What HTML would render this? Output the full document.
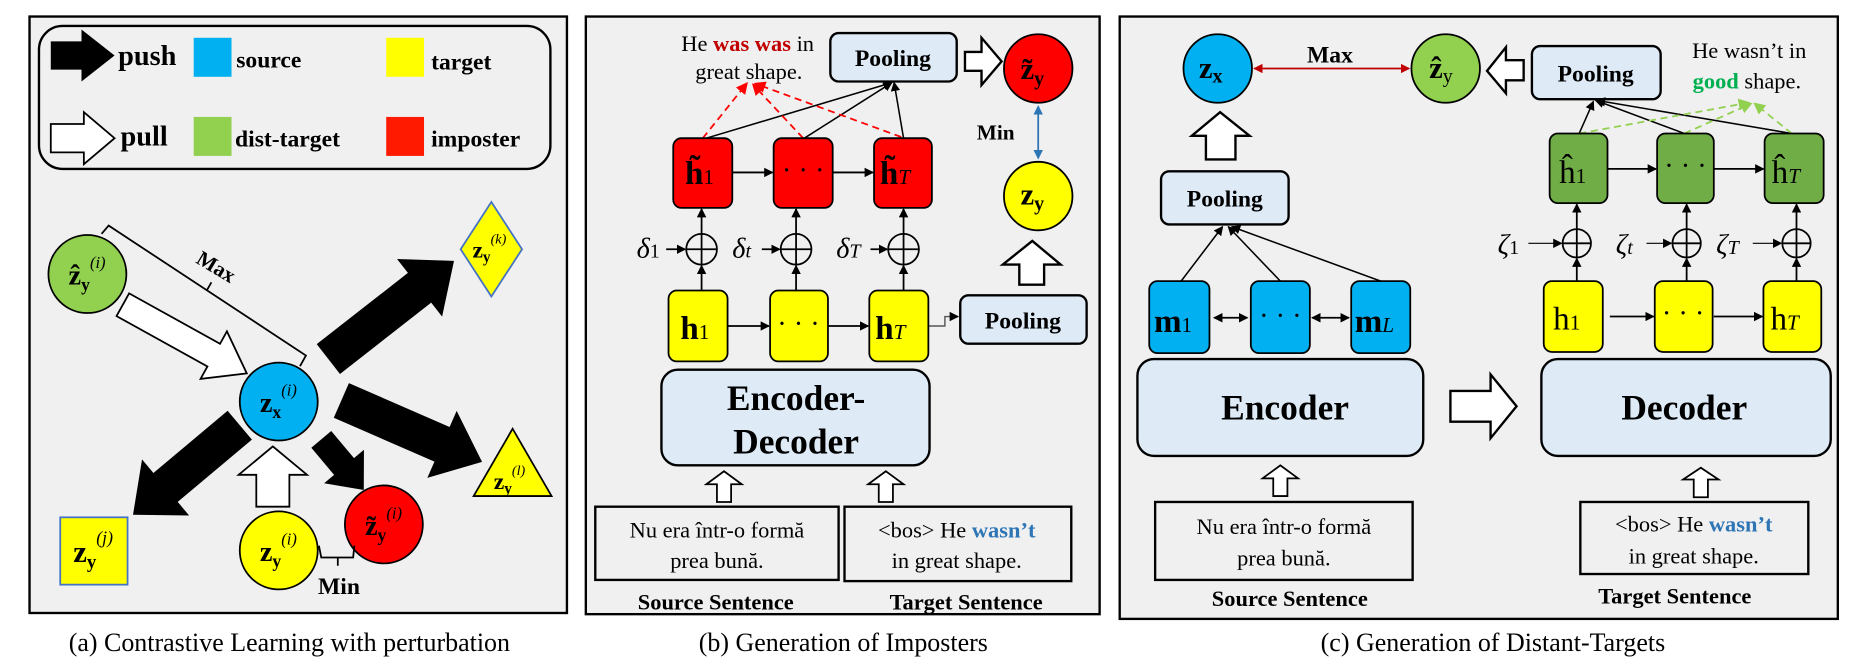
<!DOCTYPE html>
<html><head><meta charset="utf-8"><style>
html,body{margin:0;padding:0;background:#fff;}
svg{display:block;}
text{font-family:"Liberation Serif",serif;}
.b{font-weight:bold;}
.i{font-style:italic;}
</style></head><body>
<svg width="1852" height="660" viewBox="0 0 1568 558.8" preserveAspectRatio="none" xmlns="http://www.w3.org/2000/svg">
<defs>
<marker id="ah" markerWidth="8" markerHeight="8" refX="7" refY="4" orient="auto" markerUnits="userSpaceOnUse"><path d="M0,0 L8,4 L0,8 z" fill="#000"/></marker>
<marker id="as" markerWidth="8" markerHeight="8" refX="1" refY="4" orient="auto" markerUnits="userSpaceOnUse"><path d="M8,0 L0,4 L8,8 z" fill="#000"/></marker>
<marker id="ar" markerWidth="10" markerHeight="10" refX="8" refY="5" orient="auto" markerUnits="userSpaceOnUse"><path d="M0,0 L10,5 L0,10 z" fill="#f00"/></marker>
<marker id="ag" markerWidth="10" markerHeight="10" refX="8" refY="5" orient="auto" markerUnits="userSpaceOnUse"><path d="M0,0 L10,5 L0,10 z" fill="#92d050"/></marker>
<marker id="rr" markerWidth="8" markerHeight="8" refX="7" refY="4" orient="auto" markerUnits="userSpaceOnUse"><path d="M0,0 L8,4 L0,8 z" fill="#c00000"/></marker>
<marker id="rl" markerWidth="8" markerHeight="8" refX="1" refY="4" orient="auto" markerUnits="userSpaceOnUse"><path d="M8,0 L0,4 L8,8 z" fill="#c00000"/></marker>
<marker id="br" markerWidth="8" markerHeight="8" refX="7" refY="4" orient="auto" markerUnits="userSpaceOnUse"><path d="M0,0 L8,4 L0,8 z" fill="#2e75b6"/></marker>
<marker id="bl" markerWidth="8" markerHeight="8" refX="1" refY="4" orient="auto" markerUnits="userSpaceOnUse"><path d="M8,0 L0,4 L8,8 z" fill="#2e75b6"/></marker>
</defs>

<!-- ===== Panel A ===== -->
<rect x="25" y="14" width="455" height="505" fill="#f0f0f0" stroke="#000" stroke-width="2"/>
<rect x="33" y="22" width="433" height="121" rx="20" fill="none" stroke="#000" stroke-width="2"/>
<g transform="translate(43,47)"><polygon points="0,-12 26,-12 26,-22 54,0 26,22 26,12 0,12" fill="#000"/></g>
<text x="100" y="55" class="b" font-size="24">push</text>
<rect x="164" y="32" width="32" height="33" fill="#00b0f0"/>
<text x="200" y="57" class="b" font-size="20">source</text>
<rect x="327" y="32" width="32" height="33" fill="#ffff00"/>
<text x="365" y="59" class="b" font-size="20">target</text>
<g transform="translate(43,117)"><polygon points="0,-12 28,-12 28,-22 54,0 28,22 28,12 0,12" fill="#fff" stroke="#000" stroke-width="1.5"/></g>
<text x="102" y="123" class="b" font-size="24">pull</text>
<rect x="164" y="99" width="32" height="33" fill="#92d050"/>
<text x="199" y="124" class="b" font-size="20">dist-target</text>
<rect x="327" y="99" width="32" height="33" fill="#ff1a00"/>
<text x="365" y="124" class="b" font-size="20">imposter</text>

<!-- max bracket -->
<polyline points="86,198 92,191 259,301 254,310" fill="none" stroke="#000" stroke-width="1.5"/>
<line x1="175" y1="246" x2="179" y2="239" stroke="#000" stroke-width="1.5"/>
<text x="0" y="0" class="b" font-size="18" transform="translate(165,222) rotate(31)">Max</text>

<!-- pull arrow -->
<g transform="translate(104,258) rotate(29)"><polygon points="0,-11 88,-11 88,-23 120,0 88,23 88,11 0,11" fill="#fff" stroke="#000" stroke-width="1.5"/></g>
<!-- push arrows -->
<g transform="translate(278,304) rotate(-38)"><polygon points="0,-16 98,-16 98,-31 135,0 98,31 98,16 0,16" fill="#000"/></g>
<g transform="translate(289,339) rotate(23.6)"><polygon points="0,-16 93,-16 93,-31 130,0 93,31 93,16 0,16" fill="#000"/></g>
<g transform="translate(203,360) rotate(140)"><polygon points="0,-16 82,-16 82,-31 118,0 82,31 82,16 0,16" fill="#000"/></g>
<g transform="translate(272,372) rotate(50)"><polygon points="0,-11 30,-11 30,-22 56,0 30,22 30,11 0,11" fill="#000"/></g>
<!-- white up -->
<polygon points="217,429 217,402 202,402 231,378 260,402 245,402 245,429" fill="#fff" stroke="#000" stroke-width="1.5"/>

<ellipse cx="74" cy="232" rx="33" ry="33" fill="#92d050" stroke="#000" stroke-width="1.5"/>
<text x="58" y="241" class="b" font-size="24">ẑ<tspan font-size="15" dy="5">y</tspan><tspan font-size="14" dy="-19" class="i" font-weight="normal">(i)</tspan></text>
<ellipse cx="236" cy="340" rx="33" ry="33" fill="#00b0f0" stroke="#000" stroke-width="1.5"/>
<text x="220" y="349" class="b" font-size="24">z<tspan font-size="15" dy="5">x</tspan><tspan font-size="14" dy="-19" class="i" font-weight="normal">(i)</tspan></text>
<polygon points="416,171 442,211 416,251 390,211" fill="#ffff00" stroke="#4472c4" stroke-width="1.5"/>
<text x="400" y="218" class="b" font-size="20">z<tspan font-size="13" dy="4">y</tspan><tspan font-size="12" dy="-16" class="i" font-weight="normal">(k)</tspan></text>
<polygon points="401,420 467,420 434,363" fill="#ffff00" stroke="#000" stroke-width="1.5"/>
<text x="418" y="414" class="b" font-size="20">z<tspan font-size="13" dy="4">y</tspan><tspan font-size="12" dy="-16" class="i" font-weight="normal">(l)</tspan></text>
<rect x="51" y="438" width="57" height="57" fill="#ffff00" stroke="#4472c4" stroke-width="1.5"/>
<text x="62" y="476" class="b" font-size="26">z<tspan font-size="16" dy="5">y</tspan><tspan font-size="15" dy="-21" class="i" font-weight="normal">(j)</tspan></text>
<ellipse cx="236" cy="466" rx="33" ry="33" fill="#ffff00" stroke="#000" stroke-width="1.5"/>
<text x="220" y="475" class="b" font-size="24">z<tspan font-size="15" dy="5">y</tspan><tspan font-size="14" dy="-19" class="i" font-weight="normal">(i)</tspan></text>
<ellipse cx="325" cy="444" rx="33" ry="33" fill="#ff0000" stroke="#000" stroke-width="1.5"/>
<text x="309" y="453" class="b" font-size="24">z̃<tspan font-size="15" dy="5">y</tspan><tspan font-size="14" dy="-19" class="i" font-weight="normal">(i)</tspan></text>
<polyline points="270,462 272,472 299,472 300,462" fill="none" stroke="#000" stroke-width="1.5"/>
<line x1="286" y1="472" x2="286" y2="479" stroke="#000" stroke-width="1.5"/>
<text x="287" y="503" text-anchor="middle" class="b" font-size="20">Min</text>
<text x="245" y="551" text-anchor="middle" font-size="22">(a) Contrastive Learning with perturbation</text>

<!-- ===== Panel B ===== -->
<rect x="496" y="14" width="435" height="506" fill="#f0f0f0" stroke="#000" stroke-width="2"/>
<text x="633" y="43" text-anchor="middle" font-size="19">He <tspan class="b" fill="#c00000">was was</tspan> in</text>
<text x="634" y="67" text-anchor="middle" font-size="19">great shape.</text>
<rect x="703" y="28" width="107" height="41" rx="7" fill="#deebf7" stroke="#000" stroke-width="2"/>
<text x="756" y="56" text-anchor="middle" class="b" font-size="20">Pooling</text>
<polygon points="817,44 831,44 831,32 848,52 831,72 831,60 817,60" fill="#fff" stroke="#000" stroke-width="2"/>
<ellipse cx="879" cy="58" rx="29" ry="29" fill="#ff0000" stroke="#000" stroke-width="1.5"/>
<text x="864" y="67" class="b" font-size="26">z̃<tspan font-size="17" dy="5">y</tspan></text>
<text x="843" y="118" text-anchor="middle" class="b" font-size="18">Min</text>
<line x1="879" y1="90" x2="879" y2="134" stroke="#2e75b6" stroke-width="1.5" marker-start="url(#bl)" marker-end="url(#br)"/>
<ellipse cx="879" cy="166" rx="29" ry="29" fill="#ffff00" stroke="#000" stroke-width="1.5"/>
<text x="864" y="173" class="b" font-size="26">z<tspan font-size="17" dy="5">y</tspan></text>
<polygon points="863,241 863,224 849,224 874,204 898,224 884,224 884,241" fill="#fff" stroke="#000" stroke-width="2"/>
<rect x="813" y="250" width="107" height="41" rx="7" fill="#deebf7" stroke="#000" stroke-width="2"/>
<text x="866" y="278" text-anchor="middle" class="b" font-size="20">Pooling</text>

<!-- lines to pooling -->
<g stroke="#000" stroke-width="1.3" fill="none">
<line x1="598" y1="117" x2="755" y2="70" marker-end="url(#ah)"/>
<line x1="681" y1="117" x2="755" y2="70" marker-end="url(#ah)"/>
<line x1="765" y1="117" x2="757" y2="70" marker-end="url(#ah)"/>
</g>
<g stroke="#f00" stroke-width="1.5" stroke-dasharray="6,4" fill="none">
<line x1="595" y1="117" x2="632" y2="71" marker-end="url(#ar)"/>
<line x1="680" y1="117" x2="638" y2="72" marker-end="url(#ar)"/>
<line x1="763" y1="116" x2="640" y2="71" marker-end="url(#ar)"/>
</g>
<!-- red boxes -->
<rect x="570" y="117" width="50" height="59" rx="7" fill="#ff0000" stroke="#000" stroke-width="1.5"/>
<rect x="655" y="117" width="50" height="59" rx="7" fill="#ff0000" stroke="#000" stroke-width="1.5"/>
<rect x="740" y="117" width="49" height="59" rx="7" fill="#ff0000" stroke="#000" stroke-width="1.5"/>
<text x="580" y="156" class="b" font-size="28">h̃<tspan font-size="18" font-weight="normal">1</tspan></text>
<text x="680" y="152" text-anchor="middle" font-size="24">· · ·</text>
<text x="745" y="156" class="b" font-size="28">h̃<tspan font-size="18" font-weight="normal" class="i">T</tspan></text>
<g stroke="#000" stroke-width="1.5">
<line x1="620" y1="146" x2="654" y2="146" marker-end="url(#ah)"/>
<line x1="705" y1="146" x2="739" y2="146" marker-end="url(#ah)"/>
<line x1="616" y1="276" x2="651" y2="276" marker-end="url(#ah)"/>
<line x1="701" y1="276" x2="735" y2="276" marker-end="url(#ah)"/>
</g>
<!-- plus circles -->
<g stroke="#000" stroke-width="1.5" fill="none">
<circle cx="594" cy="211" r="13"/><line x1="581" y1="211" x2="607" y2="211"/><line x1="594" y1="198" x2="594" y2="224"/>
<circle cx="674" cy="211" r="13"/><line x1="661" y1="211" x2="687" y2="211"/><line x1="674" y1="198" x2="674" y2="224"/>
<circle cx="765" cy="211" r="13"/><line x1="752" y1="211" x2="778" y2="211"/><line x1="765" y1="198" x2="765" y2="224"/>
<line x1="594" y1="246" x2="594" y2="225" marker-end="url(#ah)"/>
<line x1="594" y1="198" x2="594" y2="177" marker-end="url(#ah)"/>
<line x1="674" y1="246" x2="674" y2="225" marker-end="url(#ah)"/>
<line x1="674" y1="198" x2="674" y2="177" marker-end="url(#ah)"/>
<line x1="765" y1="246" x2="765" y2="225" marker-end="url(#ah)"/>
<line x1="765" y1="198" x2="765" y2="177" marker-end="url(#ah)"/>
<line x1="564" y1="211" x2="580" y2="211" marker-end="url(#ah)"/>
<line x1="645" y1="211" x2="660" y2="211" marker-end="url(#ah)"/>
<line x1="737" y1="211" x2="751" y2="211" marker-end="url(#ah)"/>
<polyline points="786,276 800,276 800,268 811,268" stroke="#555" stroke-width="1.2" marker-end="url(#ah)"/>
</g>
<text x="539" y="218" font-size="24" class="i">δ<tspan font-size="17" font-style="normal">1</tspan></text>
<text x="620" y="218" font-size="24" class="i">δ<tspan font-size="17">t</tspan></text>
<text x="708" y="218" font-size="24" class="i">δ<tspan font-size="17">T</tspan></text>
<!-- yellow boxes -->
<rect x="566" y="246" width="50" height="60" rx="7" fill="#ffff00" stroke="#000" stroke-width="1.5"/>
<rect x="652" y="246" width="49" height="60" rx="7" fill="#ffff00" stroke="#000" stroke-width="1.5"/>
<rect x="736" y="246" width="50" height="60" rx="7" fill="#ffff00" stroke="#000" stroke-width="1.5"/>
<text x="576" y="287" class="b" font-size="28">h<tspan font-size="18" font-weight="normal">1</tspan></text>
<text x="676" y="282" text-anchor="middle" font-size="24">· · ·</text>
<text x="741" y="287" class="b" font-size="28">h<tspan font-size="18" font-weight="normal" class="i">T</tspan></text>
<rect x="560" y="313" width="227" height="81" rx="14" fill="#deebf7" stroke="#000" stroke-width="2"/>
<text x="674" y="347" text-anchor="middle" class="b" font-size="30">Encoder-</text>
<text x="674" y="384" text-anchor="middle" class="b" font-size="30">Decoder</text>
<polygon points="607,425 607,410 598,410 613,399 628,410 619,410 619,425" fill="#fff" stroke="#000" stroke-width="1.5"/>
<polygon points="744,425 744,410 735,410 750,399 765,410 756,410 756,425" fill="#fff" stroke="#000" stroke-width="1.5"/>
<rect x="504" y="429" width="206" height="62" fill="none" stroke="#000" stroke-width="2"/>
<rect x="715" y="429" width="192" height="63" fill="none" stroke="#000" stroke-width="2"/>
<text x="607" y="455" text-anchor="middle" font-size="19">Nu era într-o formă</text>
<text x="607" y="481" text-anchor="middle" font-size="19">prea bună.</text>
<text x="810" y="455" text-anchor="middle" font-size="19">&lt;bos&gt; He <tspan class="b" fill="#2e75b6">wasn’t</tspan></text>
<text x="810" y="481" text-anchor="middle" font-size="19">in great shape.</text>
<text x="606" y="516" text-anchor="middle" class="b" font-size="19">Source Sentence</text>
<text x="818" y="516" text-anchor="middle" class="b" font-size="19">Target Sentence</text>
<text x="714" y="551" text-anchor="middle" font-size="22">(b) Generation of Imposters</text>

<!-- ===== Panel C ===== -->
<rect x="948" y="14" width="608" height="510" fill="#f0f0f0" stroke="#000" stroke-width="2"/>
<ellipse cx="1031" cy="58" rx="29" ry="29" fill="#00b0f0" stroke="#000" stroke-width="1.5"/>
<text x="1015" y="66" class="b" font-size="26">z<tspan font-size="17" dy="4">x</tspan></text>
<line x1="1062" y1="58" x2="1193" y2="58" stroke="#c00000" stroke-width="1.5" marker-start="url(#rl)" marker-end="url(#rr)"/>
<text x="1126" y="53" text-anchor="middle" class="b" font-size="20">Max</text>
<ellipse cx="1224" cy="58" rx="29" ry="29" fill="#92d050" stroke="#000" stroke-width="1.5"/>
<text x="1210" y="66" class="b" font-size="26">ẑ<tspan font-size="17" dy="4" font-weight="normal">y</tspan></text>
<polygon points="1290,51 1275,51 1275,40 1259,60 1275,79 1275,68 1290,68" fill="#fff" stroke="#000" stroke-width="2"/>
<rect x="1297" y="39" width="109" height="45" rx="7" fill="#deebf7" stroke="#000" stroke-width="2"/>
<text x="1351" y="69" text-anchor="middle" class="b" font-size="20">Pooling</text>
<text x="1481" y="49" text-anchor="middle" font-size="19">He wasn’t in</text>
<text x="1479" y="75" text-anchor="middle" font-size="19"><tspan class="b" fill="#00b050">good</tspan> shape.</text>
<polygon points="1021,135 1021,115 1009,115 1033,95 1058,115 1046,115 1046,135" fill="#fff" stroke="#000" stroke-width="2"/>
<rect x="983" y="145" width="108" height="45" rx="7" fill="#deebf7" stroke="#000" stroke-width="2"/>
<text x="1037" y="175" text-anchor="middle" class="b" font-size="20">Pooling</text>
<g stroke="#000" stroke-width="1.3">
<line x1="1000" y1="238" x2="1035" y2="192" marker-end="url(#ah)"/>
<line x1="1084" y1="238" x2="1040" y2="192" marker-end="url(#ah)"/>
<line x1="1169" y1="238" x2="1043" y2="192" marker-end="url(#ah)"/>
<line x1="1028" y1="269" x2="1056" y2="269" stroke-width="1.5" marker-start="url(#as)" marker-end="url(#ah)"/>
<line x1="1111" y1="269" x2="1142" y2="269" stroke-width="1.5" marker-start="url(#as)" marker-end="url(#ah)"/>
</g>
<rect x="973" y="238" width="51" height="61" rx="7" fill="#00b0f0" stroke="#000" stroke-width="1.5"/>
<rect x="1059" y="238" width="50" height="61" rx="7" fill="#00b0f0" stroke="#000" stroke-width="1.5"/>
<rect x="1144" y="238" width="50" height="61" rx="7" fill="#00b0f0" stroke="#000" stroke-width="1.5"/>
<text x="977" y="281" class="b" font-size="28">m<tspan font-size="18" font-weight="normal">1</tspan></text>
<text x="1084" y="275" text-anchor="middle" font-size="24">· · ·</text>
<text x="1147" y="281" class="b" font-size="28">m<tspan font-size="18" font-weight="normal" class="i">L</tspan></text>
<rect x="963" y="304" width="242" height="82" rx="14" fill="#deebf7" stroke="#000" stroke-width="2"/>
<text x="1088" y="355" text-anchor="middle" class="b" font-size="30">Encoder</text>
<polygon points="1228,331 1262,331 1262,317 1284,344 1262,371 1262,357 1228,357" fill="#fff" stroke="#000" stroke-width="2"/>
<rect x="1305" y="304" width="245" height="82" rx="14" fill="#deebf7" stroke="#000" stroke-width="2"/>
<text x="1426" y="355" text-anchor="middle" class="b" font-size="30">Decoder</text>

<g stroke="#000" stroke-width="1.3">
<line x1="1337" y1="113" x2="1349" y2="86" marker-end="url(#ah)"/>
<line x1="1426" y1="113" x2="1351" y2="85" marker-end="url(#ah)"/>
<line x1="1517" y1="113" x2="1352" y2="85" marker-end="url(#ah)"/>
</g>
<g stroke="#92d050" stroke-width="1.5" stroke-dasharray="6,4" fill="none">
<line x1="1337" y1="113" x2="1480" y2="87" marker-end="url(#ag)"/>
<line x1="1426" y1="113" x2="1482" y2="88" marker-end="url(#ag)"/>
<line x1="1517" y1="113" x2="1486" y2="88" marker-end="url(#ag)"/>
</g>
<rect x="1312" y="113" width="49" height="59" rx="7" fill="#70ad47" stroke="#000" stroke-width="1.5"/>
<rect x="1403" y="113" width="48" height="59" rx="7" fill="#70ad47" stroke="#000" stroke-width="1.5"/>
<rect x="1494" y="113" width="50" height="59" rx="7" fill="#70ad47" stroke="#000" stroke-width="1.5"/>
<text x="1320" y="155" font-size="28">ĥ<tspan font-size="18">1</tspan></text>
<text x="1427" y="148" text-anchor="middle" font-size="24">· · ·</text>
<text x="1500" y="155" font-size="28">ĥ<tspan font-size="18" class="i">T</tspan></text>
<g stroke="#000" stroke-width="1.5" fill="none">
<line x1="1361" y1="143" x2="1402" y2="143" marker-end="url(#ah)"/>
<line x1="1451" y1="143" x2="1493" y2="143" marker-end="url(#ah)"/>
<line x1="1363" y1="268" x2="1400" y2="268" marker-end="url(#ah)"/>
<line x1="1451" y1="268" x2="1492" y2="268" marker-end="url(#ah)"/>
<circle cx="1335" cy="206" r="12"/><line x1="1323" y1="206" x2="1347" y2="206"/><line x1="1335" y1="194" x2="1335" y2="218"/>
<circle cx="1428" cy="206" r="12"/><line x1="1416" y1="206" x2="1440" y2="206"/><line x1="1428" y1="194" x2="1428" y2="218"/>
<circle cx="1521" cy="206" r="12"/><line x1="1509" y1="206" x2="1533" y2="206"/><line x1="1521" y1="194" x2="1521" y2="218"/>
<line x1="1335" y1="238" x2="1335" y2="219" marker-end="url(#ah)"/>
<line x1="1335" y1="194" x2="1335" y2="173" marker-end="url(#ah)"/>
<line x1="1428" y1="238" x2="1428" y2="219" marker-end="url(#ah)"/>
<line x1="1428" y1="194" x2="1428" y2="173" marker-end="url(#ah)"/>
<line x1="1521" y1="238" x2="1521" y2="219" marker-end="url(#ah)"/>
<line x1="1521" y1="194" x2="1521" y2="173" marker-end="url(#ah)"/>
<line x1="1294" y1="206" x2="1322" y2="206" stroke-width="1" marker-end="url(#ah)"/>
<line x1="1394" y1="206" x2="1415" y2="206" stroke-width="1" marker-end="url(#ah)"/>
<line x1="1484" y1="206" x2="1508" y2="206" stroke-width="1" marker-end="url(#ah)"/>
</g>
<text x="1268" y="215" font-size="24" class="i">ζ<tspan font-size="17" font-style="normal">1</tspan></text>
<text x="1368" y="215" font-size="24" class="i">ζ<tspan font-size="17">t</tspan></text>
<text x="1453" y="215" font-size="24" class="i">ζ<tspan font-size="17">T</tspan></text>
<rect x="1307" y="238" width="50" height="60" rx="7" fill="#ffff00" stroke="#000" stroke-width="1.5"/>
<rect x="1401" y="238" width="49" height="60" rx="7" fill="#ffff00" stroke="#000" stroke-width="1.5"/>
<rect x="1493" y="238" width="49" height="60" rx="7" fill="#ffff00" stroke="#000" stroke-width="1.5"/>
<text x="1315" y="279" font-size="28">h<tspan font-size="18">1</tspan></text>
<text x="1425" y="273" text-anchor="middle" font-size="24">· · ·</text>
<text x="1499" y="279" font-size="28">h<tspan font-size="18" class="i">T</tspan></text>
<polygon points="1078,420 1078,405 1069,405 1084,394 1099,405 1090,405 1090,420" fill="#fff" stroke="#000" stroke-width="1.5"/>
<polygon points="1434,421 1434,406 1425,406 1440,396 1455,406 1446,406 1446,421" fill="#fff" stroke="#000" stroke-width="1.5"/>
<rect x="978" y="425" width="218" height="66" fill="none" stroke="#000" stroke-width="2"/>
<rect x="1338" y="425" width="193" height="61" fill="none" stroke="#000" stroke-width="2"/>
<text x="1087" y="452" text-anchor="middle" font-size="19">Nu era într-o formă</text>
<text x="1087" y="479" text-anchor="middle" font-size="19">prea bună.</text>
<text x="1434" y="450" text-anchor="middle" font-size="19">&lt;bos&gt; He <tspan class="b" fill="#2e75b6">wasn’t</tspan></text>
<text x="1434" y="477" text-anchor="middle" font-size="19">in great shape.</text>
<text x="1092" y="513" text-anchor="middle" class="b" font-size="19">Source Sentence</text>
<text x="1418" y="511" text-anchor="middle" class="b" font-size="19">Target Sentence</text>
<text x="1264" y="551" text-anchor="middle" font-size="22">(c) Generation of Distant-Targets</text>
</svg>
</body></html>
